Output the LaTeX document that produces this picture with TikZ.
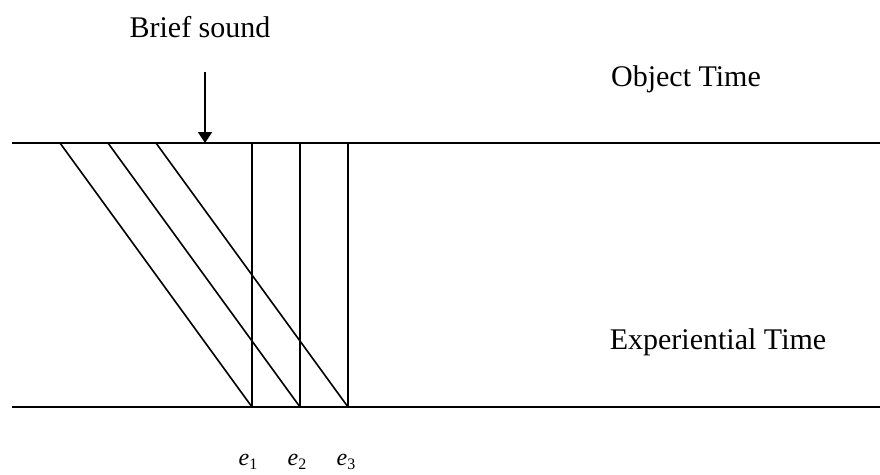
\documentclass[tikz,border=0pt]{standalone}
\usepackage{fontspec}
\setmainfont{Liberation Serif}
\usetikzlibrary{arrows.meta}
\begin{document}
\begin{tikzpicture}[x=1pt,y=-1pt,
  lbl/.style={inner sep=0pt,anchor=base,font=\fontsize{30}{36}\selectfont},
  elbl/.style={inner sep=0pt,anchor=base,font=\fontsize{24}{28}\selectfont},
  tline/.style={line width=2.2pt},
  sline/.style={line width=1.6pt},
  arr/.style={line width=1.8pt,-{Triangle[width=14pt,length=11pt]}}]
\useasboundingbox (0,0) rectangle (880,474);
% horizontal lines
\coordinate (tl) at (12,143);
\coordinate (tr) at (880,143);
\coordinate (bl) at (12,407);
\coordinate (br) at (880,407);
\draw[tline] (tl) -- (tr);
\draw[tline] (bl) -- (br);
% diagonals and verticals
\coordinate (d1) at (60,143);
\coordinate (d2) at (108,143);
\coordinate (d3) at (156,143);
\coordinate (v1t) at (252,143);
\coordinate (v2t) at (300,143);
\coordinate (v3t) at (348,143);
\coordinate (v1b) at (252,407);
\coordinate (v2b) at (300,407);
\coordinate (v3b) at (348,407);
\draw[sline] (d1) -- (v1b);
\draw[sline] (d2) -- (v2b);
\draw[sline] (d3) -- (v3b);
\draw[sline] (v1t) -- (v1b);
\draw[sline] (v2t) -- (v2b);
\draw[sline] (v3t) -- (v3b);
% arrow
\coordinate (as) at (205,72);
\coordinate (ae) at (205,143);
\draw[arr] (as) -- (ae);
% labels
\node[lbl] (brief) at (200,37) {Brief sound};
\node[lbl] (obj) at (686,86) {Object Time};
\node[lbl] (exp) at (718,349) {Experiential Time};
\node[elbl] (e1) at (248,465) {\textit{e}\raisebox{-0.2em}{\fontsize{16}{18}\selectfont 1}};
\node[elbl] (e2) at (297,465) {\textit{e}\raisebox{-0.2em}{\fontsize{16}{18}\selectfont 2}};
\node[elbl] (e3) at (346,465) {\textit{e}\raisebox{-0.2em}{\fontsize{16}{18}\selectfont 3}};
\end{tikzpicture}
\end{document}
